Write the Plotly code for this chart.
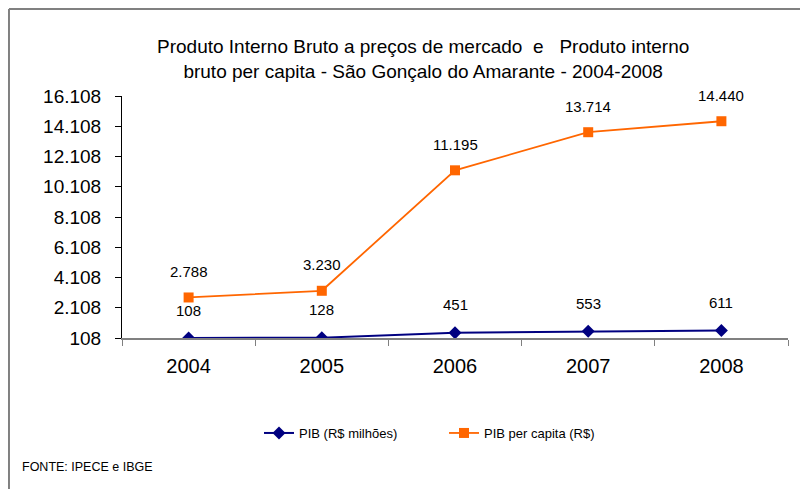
import plotly.graph_objects as go

years = ["2004", "2005", "2006", "2007", "2008"]
pib_milhoes = [108, 128, 451, 553, 611]
pib_per_capita = [2788, 3230, 11195, 13714, 14440]
pib_labels = ["108", "128", "451", "553", "611"]
per_capita_labels = ["2.788", "3.230", "11.195", "13.714", "14.440"]
y_tick_vals = [108, 2108, 4108, 6108, 8108, 10108, 12108, 14108, 16108]
y_tick_text = ["108", "2.108", "4.108", "6.108", "8.108", "10.108", "12.108", "14.108", "16.108"]

FONT = "Liberation Sans, Arial, sans-serif"

fig = go.Figure()
fig.add_trace(go.Scatter(
    x=years, y=pib_milhoes, name="PIB (R$ milhões)", mode="lines+markers",
    line=dict(color="#000080", width=2),
    marker=dict(symbol="diamond", size=10, color="#000080"),
))
fig.add_trace(go.Scatter(
    x=years, y=pib_per_capita, name="PIB per capita (R$)", mode="lines+markers",
    line=dict(color="#FF6600", width=1.8),
    marker=dict(symbol="square", size=10, color="#FF6600"),
))

annotations = []
for i, (yv, t) in enumerate(zip(pib_milhoes, pib_labels)):
    annotations.append(dict(x=i, y=yv, text=t, showarrow=False, yshift=28,
                            font=dict(family=FONT, size=15, color="black")))
for i, (yv, t) in enumerate(zip(pib_per_capita, per_capita_labels)):
    annotations.append(dict(x=i, y=yv, text=t, showarrow=False, yshift=26,
                            font=dict(family=FONT, size=15, color="black")))

annotations.append(dict(
    xref="paper", yref="paper", x=0.4527, y=1.153, xanchor="center", yanchor="middle",
    text="Produto Interno Bruto a preços de mercado  e   Produto interno<br>bruto per capita - São Gonçalo do Amarante - 2004-2008",
    showarrow=False, font=dict(family=FONT, size=19, color="black"), align="center"))
annotations.append(dict(
    xref="paper", yref="paper", x=-0.153, y=-0.533, xanchor="left", yanchor="middle",
    text="FONTE: IPECE e IBGE", showarrow=False,
    font=dict(family=FONT, size=12.5, color="black")))

fig.update_layout(
    width=800, height=481,
    margin=dict(l=114, r=20, t=88, b=151, autoexpand=False),
    paper_bgcolor="white", plot_bgcolor="white",
    font=dict(family=FONT, color="black"),
    showlegend=True,
    legend=dict(orientation="h", x=0.4835, y=-0.3926, xanchor="center", yanchor="middle",
                font=dict(family=FONT, size=13, color="black"), bgcolor="rgba(0,0,0,0)",
                entrywidth=140),
    annotations=annotations,
    shapes=[
        dict(type="line", xref="paper", yref="paper", x0=-0.1697, x1=-0.1697, y0=1.36, y1=-0.65,
             line=dict(color="#808080", width=2)),
        dict(type="line", xref="paper", yref="paper", x0=-0.1697, x1=1.05, y0=1.36, y1=1.36,
             line=dict(color="#808080", width=2)),
    ],
)
fig.update_xaxes(
    type="category", range=[-0.5, 4.5], showline=True, linecolor="#808080", linewidth=1.5,
    ticks="outside", ticklen=6, tickcolor="#808080", tickson="boundaries",
    showgrid=False, tickangle=0, automargin=False, ticklabelstandoff=9,
    tickfont=dict(family=FONT, size=20, color="black"),
)
fig.update_yaxes(
    range=[108, 16108], tickvals=y_tick_vals, ticktext=y_tick_text,
    showline=True, linecolor="black", linewidth=1, ticks="outside", ticklen=6,
    tickcolor="black", showgrid=False, zeroline=False, automargin=False,
    ticklabelstandoff=10,
    tickfont=dict(family=FONT, size=19, color="black"),
)

fig.write_html("out.html")
